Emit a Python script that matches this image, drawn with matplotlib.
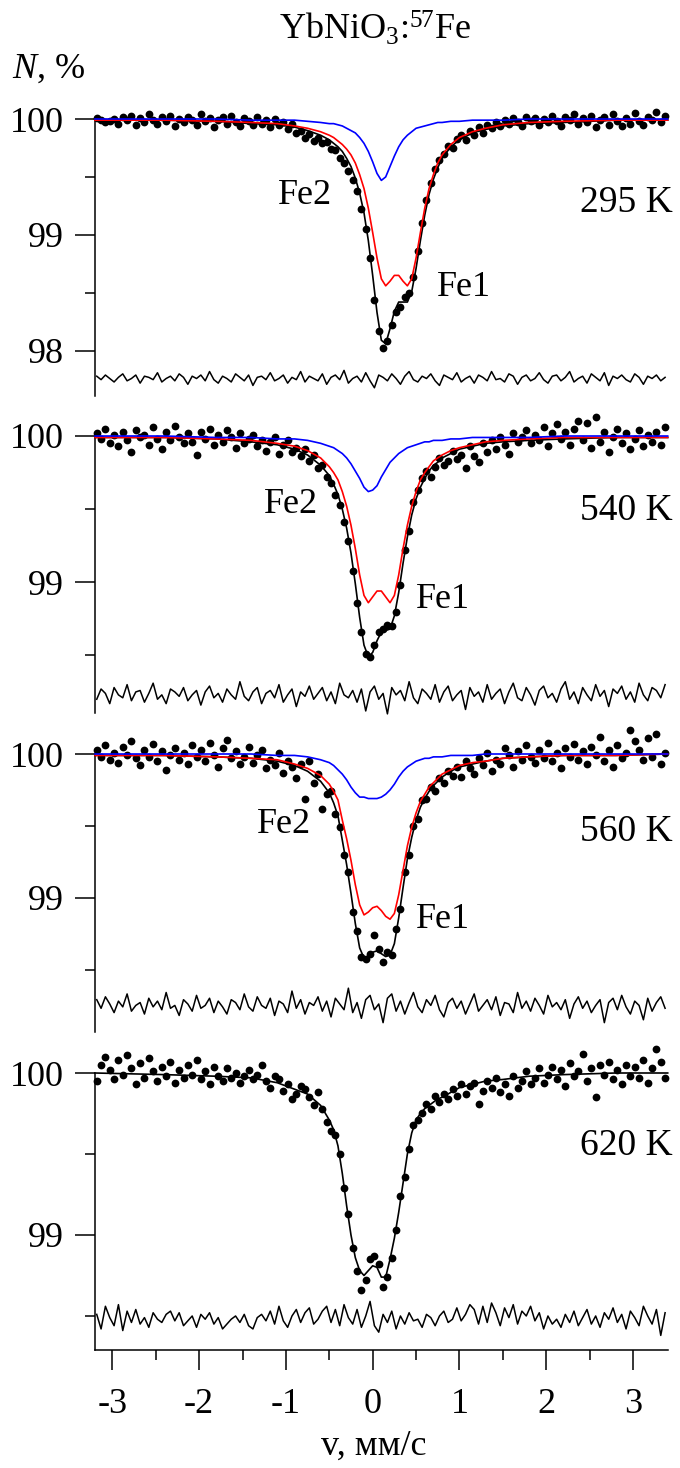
import matplotlib
matplotlib.use("Agg")
import matplotlib.pyplot as plt
from matplotlib.ticker import MultipleLocator
import numpy as np

plt.rcParams['font.family'] = 'Liberation Serif'
plt.rcParams['mathtext.fontset'] = 'custom'
plt.rcParams['mathtext.rm'] = 'Liberation Serif'
plt.rcParams['mathtext.it'] = 'Liberation Serif:italic'
plt.rcParams['axes.unicode_minus'] = False

# velocity channels, mm/s
v = np.linspace(-3.18, 3.37, 132)

fit_v = [-3.2, -2.4, -1.8, -1.4, -1.1, -0.9, -0.75, -0.6,
         -0.5, -0.45, -0.4, -0.35, -0.3, -0.25, -0.2, -0.15, -0.1, -0.05, 0.0,
         0.05, 0.1, 0.15, 0.2, 0.25, 0.3, 0.35, 0.4, 0.45, 0.5, 0.55, 0.6, 0.65,
         0.7, 0.75, 0.8,
         0.9, 1.0, 1.15, 1.3, 1.5, 1.8, 2.2, 2.8, 3.4]

# ---- 295 K ----
n_295 = [100.01, 99.99, 99.97, 99.98, 100.00, 99.96, 100.02, 99.99, 100.03, 99.95,
         100.01, 99.97, 100.04, 99.99, 99.96, 100.02, 99.98, 100.03, 99.94, 100.00,
         99.97, 100.02, 99.99, 99.95, 100.04, 99.98, 100.01, 99.93, 99.99, 100.02,
         99.96, 100.03, 99.97, 99.94, 100.01, 99.98, 99.95, 100.02, 99.96, 99.99,
         99.93, 100.00, 99.95, 99.97, 99.91, 99.96, 99.88, 99.90, 99.84, 99.87,
         99.81, 99.84, 99.79, 99.80, 99.74, 99.73, 99.66, 99.62, 99.55, 99.47,
         99.38, 99.22, 99.05, 98.80, 98.44, 98.17, 98.02, 98.08, 98.22, 98.33,
         98.38, 98.46, 98.50, 98.64, 98.86, 99.10, 99.30, 99.45, 99.57, 99.65,
         99.70, 99.77, 99.75, 99.83, 99.86, 99.82, 99.90, 99.86, 99.93, 99.88,
         99.95, 99.92, 99.97, 99.94, 99.99, 99.96, 100.01, 99.97, 99.94, 100.02,
         99.98, 100.01, 99.95, 100.00, 99.97, 100.03, 99.98, 99.94, 100.02, 99.99,
         100.04, 99.96, 100.01, 99.97, 100.03, 99.93, 99.99, 100.02, 99.95, 100.04,
         99.98, 99.94, 100.01, 99.96, 100.05, 99.98, 99.95, 100.02, 99.99, 100.06,
         99.97, 100.03]
fit_295 = [99.99, 99.99, 99.98, 99.96, 99.95, 99.93, 99.90, 99.86,
           99.82, 99.79, 99.76, 99.72, 99.66, 99.59, 99.49, 99.36, 99.19, 98.95, 98.65,
           98.33, 98.09, 98.06, 98.19, 98.34, 98.42, 98.42, 98.42, 98.51, 98.71, 98.95, 99.17, 99.35,
           99.48, 99.58, 99.66,
           99.76, 99.82, 99.88, 99.91, 99.94, 99.96, 99.97, 99.99, 99.99]
fe1_295 = [99.99, 99.99, 99.98, 99.97, 99.96, 99.94, 99.92, 99.89,
           99.86, 99.84, 99.81, 99.78, 99.74, 99.69, 99.62, 99.52, 99.40, 99.23, 99.02,
           98.80, 98.62, 98.56, 98.60, 98.65, 98.65, 98.60, 98.56, 98.62, 98.80, 99.02, 99.23, 99.40,
           99.52, 99.62, 99.69,
           99.78, 99.84, 99.89, 99.92, 99.95, 99.97, 99.98, 99.99, 99.99]
fe2_295 = [100.00, 100.00, 100.00, 99.99, 99.99, 99.99, 99.98, 99.97,
           99.96, 99.96, 99.95, 99.94, 99.92, 99.90, 99.88, 99.84, 99.79, 99.72, 99.63,
           99.53, 99.47, 99.50, 99.59, 99.68, 99.76, 99.82, 99.86, 99.89, 99.92, 99.93, 99.94, 99.95,
           99.96, 99.97, 99.97,
           99.98, 99.98, 99.99, 99.99, 99.99, 100.00, 100.00, 100.00, 100.00]
# residual, in 0.01 %
res_295 = [2, -1, 3, 0, -3, 1, 4, -2, 0, 3,
           -4, 2, 1, -1, 5, -3, 0, 2, -2, 4,
           1, -5, 2, 0, 3, -2, 6, -1, -4, 2,
           0, -3, 4, 1, -2, 3, -6, 1, 2, -1,
           5, -2, 0, 3, -4, 1, -1, 6, -3, 2,
           0, -2, 4, -5, 1, 3, -1, 7, -4, 0,
           2, -3, 5, -2, -8, 3, 1, -2, 4, 0,
           -5, 2, 6, -1, -3, 2, 0, 4, -2, -6,
           3, 1, -1, 5, -3, 0, 2, -4, 3, 1,
           -2, 6, -1, 0, -3, 4, 2, -5, 1, 3,
           -2, 0, 5, -1, -4, 2, 3, -2, 1, 6,
           -3, 0, 2, -4, 4, 1, -2, 5, -6, 2,
           0, 3, -1, -3, 4, 1, -5, 2, 0, 3,
           -2, 1]

# ---- 540 K ----
n_540 = [100.02, 99.98, 100.05, 99.95, 100.01, 99.93, 100.03, 99.97, 99.89, 100.04,
         99.99, 100.01, 99.94, 100.06, 99.98, 99.91, 100.03, 99.97, 100.07, 99.99,
         99.95, 100.02, 99.96, 99.87, 100.03, 99.98, 100.05, 99.94, 100.01, 99.96,
         100.04, 99.99, 99.92, 100.02, 99.95, 99.98, 100.01, 99.93, 99.97, 99.90,
         99.96, 99.99, 99.88, 99.94, 99.97, 99.89, 99.92, 99.86, 99.91, 99.83,
         99.87, 99.78, 99.80, 99.72, 99.68, 99.60, 99.53, 99.41, 99.28, 99.08,
         98.86, 98.66, 98.51, 98.49, 98.57, 98.66, 98.68, 98.71, 98.70, 98.80,
         98.98, 99.22, 99.35, 99.55, 99.63, 99.71, 99.76, 99.72, 99.79, 99.85,
         99.80, 99.83, 99.90, 99.84, 99.87, 99.78, 99.93, 99.86, 99.82, 99.95,
         99.89, 99.97, 99.91, 99.99, 99.94, 99.88, 100.02, 99.96, 99.99, 100.04,
         99.95, 100.01, 99.97, 100.06, 99.93, 100.02, 100.08, 99.98, 100.03, 99.94,
         100.05, 100.10, 99.97, 100.09, 99.92, 100.13, 99.96, 100.03, 99.89, 99.99,
         100.05, 99.95, 100.02, 99.91, 99.98, 100.04, 99.93, 100.01, 99.96, 100.03,
         99.94, 100.06]
fit_540 = [99.99, 99.99, 99.98, 99.96, 99.94, 99.91, 99.87, 99.80,
           99.73, 99.67, 99.60, 99.50, 99.37, 99.20, 98.99, 98.76, 98.57, 98.49, 98.52,
           98.60, 98.66, 98.67, 98.68, 98.77, 98.93, 99.13, 99.31, 99.46, 99.57, 99.65, 99.71, 99.76,
           99.80, 99.82, 99.85,
           99.88, 99.91, 99.93, 99.95, 99.96, 99.97, 99.98, 99.99, 99.99]
fe1_540 = [99.99, 99.99, 99.98, 99.97, 99.95, 99.93, 99.90, 99.85,
           99.79, 99.75, 99.70, 99.62, 99.52, 99.39, 99.23, 99.05, 98.91, 98.86, 98.90,
           98.94, 98.94, 98.90, 98.86, 98.91, 99.05, 99.23, 99.39, 99.52, 99.62, 99.70, 99.75, 99.79,
           99.83, 99.85, 99.87,
           99.90, 99.92, 99.94, 99.96, 99.97, 99.98, 99.99, 99.99, 99.99]
fe2_540 = [100.00, 100.00, 99.99, 99.99, 99.98, 99.98, 99.97, 99.95,
           99.93, 99.92, 99.90, 99.88, 99.85, 99.81, 99.76, 99.71, 99.65, 99.62, 99.63,
           99.66, 99.72, 99.77, 99.82, 99.85, 99.88, 99.90, 99.92, 99.93, 99.94, 99.95, 99.96, 99.96,
           99.97, 99.97, 99.97,
           99.98, 99.98, 99.99, 99.99, 99.99, 99.99, 100.00, 100.00, 100.00]
res_540 = [-3, 4, 1, -6, 5, 0, -2, 7, -4, 2,
           3, -5, 1, 8, -3, 0, -6, 4, 2, -1,
           5, -4, 0, 3, -7, 2, 6, -2, 1, -5,
           4, 0, -3, 9, -1, -4, 2, 5, -6, 1,
           3, -2, 7, -5, 0, 4, -8, 2, -1, 6,
           -3, 1, 5, -4, 2, -6, 8, 0, -2, 3,
           -5, 4, -11, 2, 6, -3, 1, -13, 5, 0,
           3, -4, 9, -2, -6, 4, 1, -3, 7, -5,
           2, 6, -4, 0, 3, -10, 5, -1, 2, -5,
           7, -3, 1, 4, -6, 2, 8, -2, -4, 5,
           0, -7, 3, 6, -2, 1, -5, 4, 9, -3,
           2, -6, 5, 0, -4, 7, -1, 3, -8, 4,
           1, 6, -3, 2, -5, 8, 0, -4, 5, 3,
           -2, 7]

# ---- 560 K ----
n_560 = [100.03, 99.98, 100.06, 99.96, 100.01, 99.94, 100.05, 99.99, 100.09, 99.97,
         99.92, 100.03, 99.98, 100.07, 99.95, 100.02, 99.89, 99.99, 100.04, 99.96,
         100.01, 99.93, 100.06, 99.98, 100.03, 99.95, 100.08, 99.99, 99.91, 100.04,
         100.10, 99.97, 100.02, 99.93, 99.98, 100.05, 99.94, 99.99, 100.03, 99.90,
         99.96, 99.92, 100.01, 99.87, 99.95, 99.91, 99.83, 99.93, 99.69, 99.95,
         99.80, 99.86, 99.62, 99.72, 99.74, 99.58, 99.49, 99.30, 99.18, 98.90,
         98.77, 98.59, 98.57, 98.61, 98.74, 98.64, 98.55, 98.62, 98.60, 98.78,
         98.92, 99.18, 99.30, 99.50, 99.55, 99.68, 99.69, 99.77, 99.74, 99.83,
         99.80, 99.88, 99.85, 99.91, 99.84, 99.95, 99.90, 99.86, 99.97, 99.92,
         100.01, 99.88, 99.96, 99.93, 100.04, 99.99, 99.91, 100.02, 99.96, 100.06,
         99.98, 99.94, 100.03, 99.97, 100.08, 99.95, 100.01, 99.90, 100.04, 99.98,
         100.07, 99.96, 100.02, 99.93, 100.05, 99.99, 100.12, 99.95, 100.03, 99.91,
         100.06, 99.97, 100.01, 100.17, 100.09, 100.03, 99.96, 100.11, 99.98, 100.14,
         99.93, 100.01]
fit_560 = [99.99, 99.99, 99.98, 99.97, 99.95, 99.92, 99.88, 99.81,
           99.73, 99.66, 99.57, 99.40, 99.23, 99.03, 98.82, 98.65, 98.58, 98.59, 98.62,
           98.63, 98.61, 98.59, 98.60, 98.68, 98.86, 99.07, 99.27, 99.42, 99.54, 99.63, 99.69, 99.74,
           99.78, 99.81, 99.84,
           99.88, 99.91, 99.93, 99.95, 99.97, 99.98, 99.99, 99.99, 100.00]
fe1_560 = [99.99, 99.99, 99.98, 99.97, 99.96, 99.93, 99.90, 99.85,
           99.79, 99.74, 99.68, 99.54, 99.41, 99.26, 99.09, 98.95, 98.88, 98.90, 98.93,
           98.94, 98.91, 98.87, 98.85, 98.89, 99.02, 99.19, 99.36, 99.49, 99.59, 99.67, 99.72, 99.77,
           99.80, 99.83, 99.86,
           99.89, 99.92, 99.94, 99.95, 99.97, 99.98, 99.99, 99.99, 100.00]
fe2_560 = [100.00, 100.00, 100.00, 100.00, 99.99, 99.99, 99.98, 99.96,
           99.94, 99.92, 99.89, 99.86, 99.82, 99.77, 99.73, 99.70, 99.70, 99.69, 99.69,
           99.69, 99.70, 99.72, 99.75, 99.79, 99.84, 99.88, 99.91, 99.93, 99.95, 99.96, 99.97, 99.97,
           99.98, 99.98, 99.98,
           99.99, 99.99, 99.99, 100.00, 100.00, 100.00, 100.00, 100.00, 100.00]
res_560 = [4, -2, 6, 1, -5, 3, -1, 8, -4, 0,
           2, -6, 5, -1, 3, -3, 9, -2, 0, -7,
           4, 1, -4, 7, -2, 0, 5, -5, 3, -1,
           -6, 4, 2, -3, 8, -1, -4, 6, 0, -2,
           5, -7, 3, 1, -5, 10, -2, 4, -6, 2,
           0, 6, -4, 3, -8, 5, 1, -3, 12, -5,
           2, -9, 4, 7, -3, 1, -12, 5, 8, -4,
           3, -6, 2, 9, -1, -5, 4, 0, 7, -3,
           -8, 2, 5, -2, 3, -6, 1, 8, -4, 0,
           4, -3, 6, -7, 2, 1, -5, 9, -2, 3,
           -4, 5, 0, -6, 7, -1, 2, -3, 4, -9,
           1, 6, -2, 3, -5, 0, 4, -12, 2, 5,
           -3, 7, -1, -6, 3, 0, -10, 5, -4, 2,
           6, -2]

# ---- 620 K ----
n_620 = [99.95, 100.05, 100.10, 100.02, 99.96, 100.08, 99.99, 100.11, 100.03, 99.93,
         100.06, 99.97, 100.09, 100.01, 99.95, 100.04, 99.98, 100.07, 99.94, 100.02,
         99.97, 100.05, 99.99, 100.08, 99.96, 100.01, 99.93, 100.04, 99.98, 99.95,
         100.03, 99.97, 100.00, 99.94, 99.98, 100.02, 99.96, 99.99, 100.05, 99.95,
         99.91, 99.98, 99.96, 99.89, 99.93, 99.84, 99.87, 99.92, 99.90, 99.85,
         99.80, 99.88, 99.78, 99.70, 99.64, 99.62, 99.50, 99.29, 99.13, 98.92,
         98.78, 98.66, 98.72, 98.85, 98.87, 98.82, 98.68, 98.74, 98.86, 99.03,
         99.24, 99.36, 99.53, 99.68, 99.71, 99.75, 99.81, 99.78, 99.86, 99.82,
         99.87, 99.84, 99.90, 99.86, 99.93, 99.87, 99.92, 99.94, 99.81, 99.89,
         99.95, 99.91, 99.97, 99.88, 99.93, 99.86, 99.98, 99.91, 99.95, 100.01,
         99.93, 99.97, 100.03, 99.94, 99.99, 100.04, 99.96, 100.02, 99.92, 100.06,
         99.98, 100.01, 100.12, 99.95, 100.03, 99.85, 100.05, 99.99, 100.07, 99.96,
         100.02, 99.93, 100.05, 99.98, 100.04, 99.97, 100.08, 99.94, 100.03, 100.15,
         100.07, 99.97]
fit_620 = [100.00, 99.99, 99.98, 99.97, 99.94, 99.90, 99.87, 99.80,
           99.71, 99.65, 99.55, 99.38, 99.18, 99.00, 98.86, 98.78, 98.75, 98.78, 98.81,
           98.80, 98.74, 98.74, 98.85, 98.98, 99.14, 99.32, 99.50, 99.63, 99.71, 99.75, 99.78, 99.80,
           99.82, 99.84, 99.85,
           99.88, 99.91, 99.93, 99.95, 99.96, 99.98, 99.99, 100.00, 100.00]
res_620 = [3, -6, 8, 1, -4, 9, -7, 5, -2, 6,
           -3, 1, -5, 4, 0, -2, 3, 5, -1, 4,
           -4, -1, 2, -5, 3, 0, 4, -3, 1, -6,
           -3, 0, 2, -2, 3, -4, -6, 1, 3, -1,
           5, -3, 8, -1, -5, 2, 6, -2, 4, 7,
           -3, 0, 5, 8, -2, 6, -4, 9, 1, -3,
           6, -5, 2, 11, -4, -8, 3, -2, 5, -6,
           2, -3, 4, -1, 0, -5, 3, 1, -4, 2,
           5, -2, 0, 7, -1, 3, 9, 6, -3, 8,
           -2, 10, 4, -4, 7, 1, 9, -3, 5, 2,
           8, -1, 4, -6, 2, -3, 0, -5, 3, -2,
           5, -4, 1, 6, -3, 2, -5, 4, 0, 7,
           -2, 3, -6, 5, 1, -4, 8, 2, -3, 6,
           -10, 4]

temps = ["295 K", "540 K", "560 K", "620 K"]
counts = [n_295, n_540, n_560, n_620]
fits = [fit_295, fit_540, fit_560, fit_620]
fe1 = [fe1_295, fe1_540, fe1_560, None]
fe2 = [fe2_295, fe2_540, fe2_560, None]
resid = [res_295, res_540, res_560, res_620]
res_level = [97.76, 98.23, 98.25, 98.48]
y_low = [97.609, 98.106, 98.065, 98.29]

W, H = 680, 1468
fig = plt.figure(figsize=(W / 100, H / 100), dpi=100)

def fx(px):
    return px / W

def fy(py):
    return 1 - py / H

# panel tops (the 100 % line) and bottoms, pixels
tops = [119, 436, 754, 1073]
bots = [396, 713, 1032, 1350]
x0, x1 = 95, 667.7
fs = 26

for i in range(4):
    ax = fig.add_axes([fx(x0), fy(bots[i]), (x1 - x0) / W, (bots[i] - tops[i]) / H])
    ax.plot(v, counts[i], 'o', color='k', ms=5.6, mew=0, clip_on=False, zorder=2)
    ax.plot(fit_v, fits[i], color='k', lw=1.2, clip_on=False, zorder=3)
    if fe1[i] is not None:
        ax.plot(fit_v, fe1[i], color='#ff0000', lw=1.2, clip_on=False, zorder=4)
        ax.plot(fit_v, fe2[i], color='#0000ff', lw=1.2, clip_on=False, zorder=4)
    ax.plot(v, res_level[i] + np.array(resid[i]) / 100, color='k', lw=1.1,
            clip_on=False, zorder=3)

    ax.set_xlim(-3.2, 3.4)
    ax.set_ylim(y_low[i], 100)
    ax.spines['top'].set_visible(False)
    ax.spines['right'].set_visible(False)
    ax.spines['left'].set_linewidth(1.1)
    ax.spines['bottom'].set_linewidth(1.1)
    ax.yaxis.set_major_locator(MultipleLocator(1))
    ax.yaxis.set_minor_locator(MultipleLocator(0.5))
    ax.yaxis.set_major_formatter(plt.FuncFormatter(lambda y, p: "%d" % round(y)))
    ax.tick_params(axis='y', which='major', direction='out', length=14.4, width=1.1,
                   labelsize=fs, pad=8)
    ax.tick_params(axis='y', which='minor', direction='out', length=7.2, width=1.1)
    if i < 3:
        ax.spines['bottom'].set_visible(False)
        ax.tick_params(axis='x', which='both', bottom=False, labelbottom=False)
    else:
        ax.xaxis.set_major_locator(MultipleLocator(1))
        ax.xaxis.set_minor_locator(MultipleLocator(0.5))
        ax.tick_params(axis='x', which='major', direction='out', length=14.4, width=1.1,
                       labelsize=fs, pad=13)
        ax.tick_params(axis='x', which='minor', direction='out', length=7.2, width=1.1)
    ax.patch.set_alpha(0)

    fig.text(fx(673), fy([212, 520, 841, 1155][i]), temps[i], fontsize=fs + 1,
             ha='right', va='baseline')

# site labels
fe2_pos = [(278, 204), (264, 513), (257, 833)]
fe1_pos = [(437, 296), (416, 608), (416, 928)]
for (px, py) in fe2_pos:
    fig.text(fx(px), fy(py), "Fe2", fontsize=fs, ha='left', va='baseline')
for (px, py) in fe1_pos:
    fig.text(fx(px), fy(py), "Fe1", fontsize=fs, ha='left', va='baseline')

fig.text(fx(375), fy(40), r"YbNiO$_3$:$^{57}$Fe", fontsize=fs, ha='center', va='baseline')
fig.text(fx(12), fy(78), r"$N$, %", fontsize=fs, ha='left', va='baseline')
fig.text(fx(374), fy(1455), "v, мм/с", fontsize=fs, ha='center', va='baseline')

fig.savefig("out.png", dpi=100)
